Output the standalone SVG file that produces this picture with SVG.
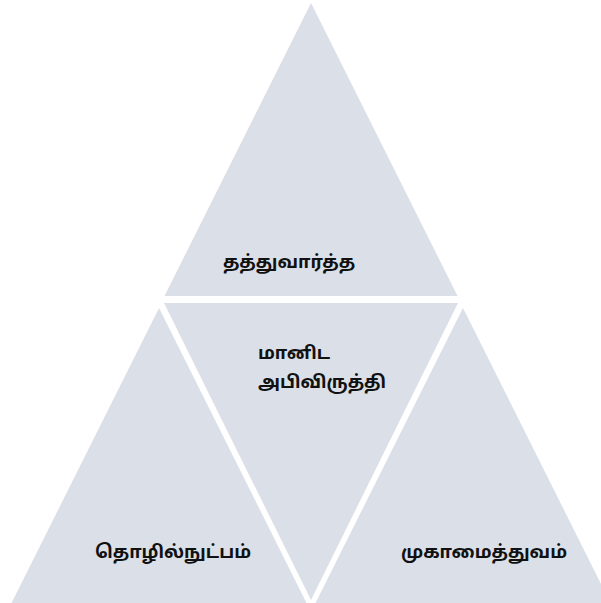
<svg xmlns="http://www.w3.org/2000/svg" width="601" height="603" viewBox="0 0 601 603">
<style>
.tri{fill:#DBE0E8;stroke:none}
.lbl{font-family:"Noto Sans Tamil","Lohit Tamil","Noto Sans","Liberation Sans",sans-serif;font-size:18px;font-weight:bold;fill:#111}
</style>
<rect width="601" height="603" fill="#FFFFFF"/>
<g id="top"><polygon class="tri" points="311,3 457.5,296 164.5,296"/><text class="lbl" x="289" y="268" text-anchor="middle">தத்துவார்த்த</text></g>
<g id="left"><polygon class="tri" points="159,308 306.5,603 11.5,603"/><text class="lbl" x="173" y="558" text-anchor="middle">தொழில்நுட்பம்</text></g>
<g id="right"><polygon class="tri" points="463,308 610.5,603 315.5,603"/><text class="lbl" x="484" y="558" text-anchor="middle">முகாமைத்துவம்</text></g>
<g id="middle"><polygon class="tri" points="164,303 458,303 311,600"/><text class="lbl" x="258" y="359">மானிட</text><text class="lbl" x="258" y="388">அபிவிருத்தி</text></g>
<g id="connectors"/>
</svg>
